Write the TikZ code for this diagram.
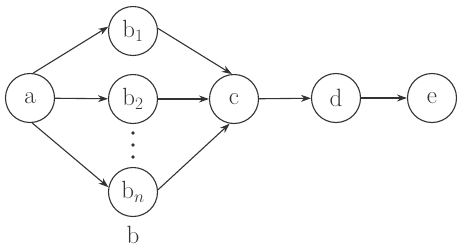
\documentclass[tikz,border=0pt]{standalone}
\usetikzlibrary{arrows.meta}
\definecolor{ink}{HTML}{333333}
\begin{document}
\begin{tikzpicture}[x=1pt,y=-1pt,
  vnode/.style={circle,draw=ink,line width=1.1pt,minimum size=49pt,inner sep=0pt,text=ink,font=\fontsize{25}{30}\selectfont},
  conn/.style={draw=ink,line width=1.1pt,-{Stealth[length=10pt,width=7pt]}},
  lbl/.style={text=ink,font=\fontsize{25}{30}\selectfont}]
\useasboundingbox (0,0) rectangle (461,250);
\node[vnode] (a) at (30,98) {a};
\node[vnode] (b1) at (133,31) {$\mathrm{b}_1$};
\node[vnode] (b2) at (133,99) {$\mathrm{b}_2$};
\node[vnode] (bn) at (133,192) {$\mathrm{b}_n$};
\node[vnode] (c) at (234,99) {c};
\node[vnode] (d) at (336,98) {d};
\node[vnode] (e) at (432,98) {e};
\node[lbl] (blabel) at (133,235) {b};
\foreach \yy in {133,145,157} \fill[ink] (133,\yy) circle (1.8);
\draw[conn] (a.83) -- (b1.170);
\draw[conn] (a) -- (b2);
\draw[conn] (a.-85) -- (bn.169);
\draw[conn] (b1.6) -- (c.95);
\draw[conn] (b2) -- (c);
\draw[conn] (bn.5) -- (c.-100);
\draw[conn] (c) -- (d);
\draw[conn] (d) -- (e);
\end{tikzpicture}
\end{document}
